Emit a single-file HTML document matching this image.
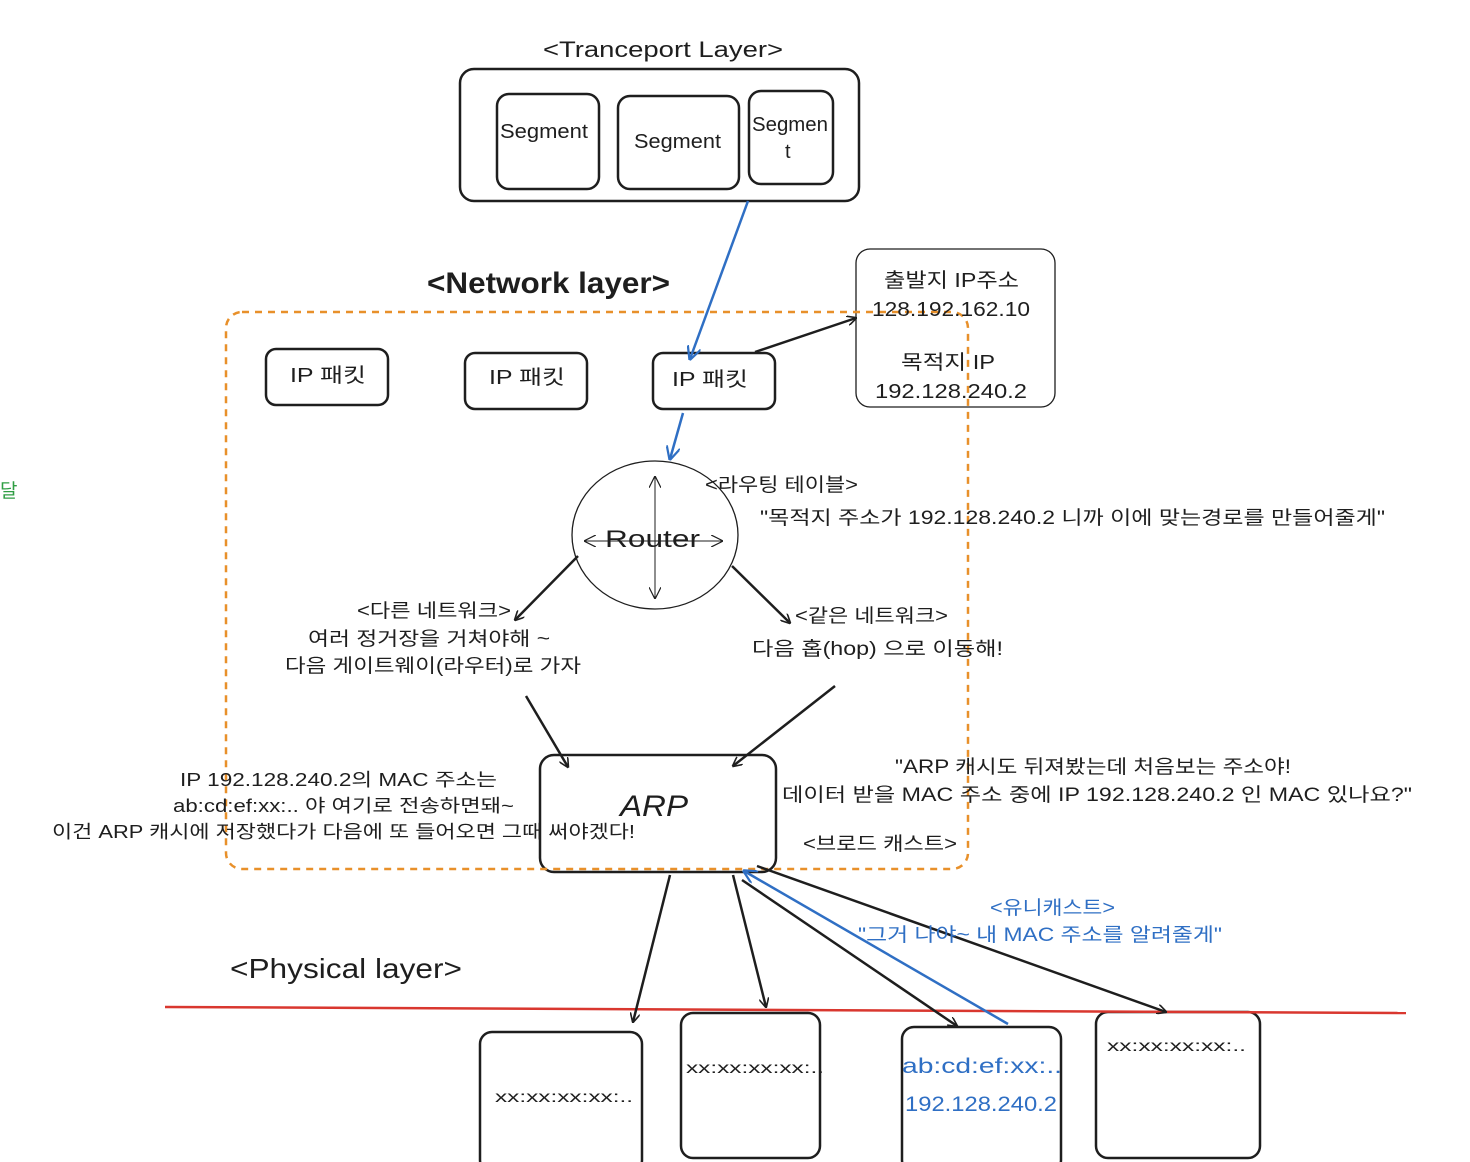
<!DOCTYPE html>
<html><head><meta charset="utf-8"><style>
body{margin:0;background:#fff;}
svg{display:block;}
text{font-family:"Liberation Sans","Noto Sans CJK KR",sans-serif;fill:#1e1e1e;}
</style></head><body>
<svg width="1470" height="1162" viewBox="0 0 1470 1162" xmlns="http://www.w3.org/2000/svg">
<defs>
<marker id="a" viewBox="0 0 10 10" refX="9" refY="5" markerWidth="10" markerHeight="10" orient="auto-start-reverse" markerUnits="userSpaceOnUse"><path d="M0,0 L10,5 L0,10" fill="none" stroke="#1e1e1e" stroke-width="1.6"/></marker>
<marker id="b" viewBox="0 0 10 10" refX="9" refY="5" markerWidth="14" markerHeight="14" orient="auto" markerUnits="userSpaceOnUse"><path d="M0,0 L10,5 L0,10" fill="none" stroke="#2f6fc4" stroke-width="1.6"/></marker>
<marker id="t" viewBox="0 0 10 10" refX="9" refY="5" markerWidth="12" markerHeight="12" orient="auto-start-reverse" markerUnits="userSpaceOnUse"><path d="M0,0 L10,5 L0,10" fill="none" stroke="#1e1e1e" stroke-width="1"/></marker>
</defs>
<g fill="none" stroke="#1e1e1e" stroke-width="2.5">
<rect x="460" y="69" width="399" height="132" rx="14"/>
<rect x="497" y="94" width="102" height="95" rx="12"/>
<rect x="618" y="96" width="121" height="93" rx="12"/>
<rect x="749" y="91" width="84" height="93" rx="12"/>
<rect x="266" y="349" width="122" height="56" rx="10"/>
<rect x="465" y="353" width="122" height="56" rx="10"/>
<rect x="653" y="353" width="122" height="56" rx="10"/>
<rect x="540" y="755" width="236" height="117" rx="14"/>
<rect x="480" y="1032" width="162" height="140" rx="12"/>
<rect x="681" y="1013" width="139" height="145" rx="12"/>
<rect x="902" y="1027" width="159" height="145" rx="12"/>
<rect x="1096" y="1012" width="164" height="146" rx="12"/>
</g>
<rect x="856" y="249" width="199" height="158" rx="14" fill="none" stroke="#1e1e1e" stroke-width="1.3"/>
<rect x="226" y="312" width="742" height="557" rx="16" fill="none" stroke="#e8902a" stroke-width="2.5" stroke-dasharray="7 6"/>
<ellipse cx="655" cy="535" rx="83" ry="74" fill="none" stroke="#1e1e1e" stroke-width="1.3"/>
<line x1="655" y1="477" x2="655" y2="598" stroke="#1e1e1e" stroke-width="1" marker-start="url(#t)" marker-end="url(#t)"/>
<line x1="585" y1="541" x2="722" y2="541" stroke="#1e1e1e" stroke-width="1" marker-start="url(#t)" marker-end="url(#t)"/>
<line x1="165" y1="1007" x2="1406" y2="1013" stroke="#d9372f" stroke-width="2.5"/>
<g stroke="#1e1e1e" stroke-width="2.5" fill="none" marker-end="url(#a)">
<line x1="755" y1="352" x2="856" y2="318"/>
<line x1="578" y1="556" x2="515" y2="620"/>
<line x1="732" y1="566" x2="790" y2="623"/>
<line x1="526" y1="696" x2="568" y2="767"/>
<line x1="835" y1="686" x2="733" y2="766"/>
<line x1="670" y1="875" x2="633" y2="1022"/>
<line x1="733" y1="875" x2="766" y2="1007"/>
<line x1="742" y1="880" x2="957" y2="1026"/>
<line x1="757" y1="866" x2="1166" y2="1012"/>
</g>
<g stroke="#2f6fc4" stroke-width="2.5" fill="none" marker-end="url(#b)">
<line x1="748" y1="201" x2="690" y2="359"/>
<line x1="683" y1="413" x2="670" y2="459"/>
<line x1="1008" y1="1024" x2="744" y2="871"/>
</g>
<g font-size="20" lengthAdjust="spacingAndGlyphs">
<text x="543" y="57" font-size="22" textLength="240" lengthAdjust="spacingAndGlyphs">&lt;Tranceport Layer&gt;</text>
<text x="500" y="138" textLength="88" lengthAdjust="spacingAndGlyphs">Segment</text>
<text x="634" y="148" textLength="87" lengthAdjust="spacingAndGlyphs">Segment</text>
<text x="752" y="131" textLength="76" lengthAdjust="spacingAndGlyphs">Segmen</text>
<text x="785" y="158">t</text>
<text x="427" y="293" font-size="30" font-weight="bold" textLength="243" lengthAdjust="spacingAndGlyphs">&lt;Network layer&gt;</text>
<text x="290" y="382" textLength="76" lengthAdjust="spacingAndGlyphs">IP 패킷</text>
<text x="489" y="384" textLength="76" lengthAdjust="spacingAndGlyphs">IP 패킷</text>
<text x="672" y="386" textLength="76" lengthAdjust="spacingAndGlyphs">IP 패킷</text>
<text x="884" y="287" textLength="135" lengthAdjust="spacingAndGlyphs">출발지 IP주소</text>
<text x="872" y="316" textLength="158" lengthAdjust="spacingAndGlyphs">128.192.162.10</text>
<text x="901" y="369" textLength="94" lengthAdjust="spacingAndGlyphs">목적지 IP</text>
<text x="875" y="398" textLength="152" lengthAdjust="spacingAndGlyphs">192.128.240.2</text>
<text x="605" y="547" font-size="24" textLength="95" lengthAdjust="spacingAndGlyphs">Router</text>
<text x="705" y="491" font-size="19" textLength="153" lengthAdjust="spacingAndGlyphs">&lt;라우팅 테이블&gt;</text>
<text x="760" y="524" font-size="19" textLength="625" lengthAdjust="spacingAndGlyphs">"목적지 주소가 192.128.240.2 니까 이에 맞는경로를 만들어줄게"</text>
<text x="357" y="617" font-size="19" textLength="154" lengthAdjust="spacingAndGlyphs">&lt;다른 네트워크&gt;</text>
<text x="308" y="645" font-size="19" textLength="242" lengthAdjust="spacingAndGlyphs">여러 정거장을 거쳐야해 ~</text>
<text x="285" y="672" font-size="19" textLength="296" lengthAdjust="spacingAndGlyphs">다음 게이트웨이(라우터)로 가자</text>
<text x="795" y="622" font-size="19" textLength="153" lengthAdjust="spacingAndGlyphs">&lt;같은 네트워크&gt;</text>
<text x="752" y="655" font-size="19" textLength="251" lengthAdjust="spacingAndGlyphs">다음 홉(hop) 으로 이동해!</text>
<text x="620" y="816" font-size="30" font-style="italic" textLength="68" lengthAdjust="spacingAndGlyphs">ARP</text>
<text x="180" y="786" font-size="18" textLength="317" lengthAdjust="spacingAndGlyphs">IP 192.128.240.2의 MAC 주소는</text>
<text x="173" y="812" font-size="18" textLength="341" lengthAdjust="spacingAndGlyphs">ab:cd:ef:xx:.. 야 여기로 전송하면돼~</text>
<text x="52" y="838" font-size="18" textLength="583" lengthAdjust="spacingAndGlyphs">이건 ARP 캐시에 저장했다가 다음에 또 들어오면 그때 써야겠다!</text>
<text x="895" y="773" font-size="19" textLength="396" lengthAdjust="spacingAndGlyphs">"ARP 캐시도 뒤져봤는데 처음보는 주소야!</text>
<text x="782" y="801" font-size="19" textLength="630" lengthAdjust="spacingAndGlyphs">데이터 받을 MAC 주소 중에 IP 192.128.240.2 인 MAC 있나요?"</text>
<text x="803" y="850" font-size="19" textLength="154" lengthAdjust="spacingAndGlyphs">&lt;브로드 캐스트&gt;</text>
<text x="990" y="914" font-size="19" style="fill:#2f6fc4" textLength="125" lengthAdjust="spacingAndGlyphs">&lt;유니캐스트&gt;</text>
<text x="858" y="941" font-size="19" style="fill:#2f6fc4" textLength="364" lengthAdjust="spacingAndGlyphs">"그거 나야~ 내 MAC 주소를 알려줄게"</text>
<text x="230" y="978" font-size="28" textLength="232" lengthAdjust="spacingAndGlyphs">&lt;Physical layer&gt;</text>
<text x="495" y="1102" font-size="16" textLength="138" lengthAdjust="spacingAndGlyphs">xx:xx:xx:xx:..</text>
<text x="686" y="1073" font-size="16" textLength="138" lengthAdjust="spacingAndGlyphs">xx:xx:xx:xx:..</text>
<text x="902" y="1073" font-size="21" style="fill:#2f6fc4" textLength="160" lengthAdjust="spacingAndGlyphs">ab:cd:ef:xx:..</text>
<text x="905" y="1111" font-size="21" style="fill:#2f6fc4" textLength="152" lengthAdjust="spacingAndGlyphs">192.128.240.2</text>
<text x="1107" y="1051" font-size="16" textLength="139" lengthAdjust="spacingAndGlyphs">xx:xx:xx:xx:..</text>
</g>
<text x="0" y="497" font-size="19" style="fill:#2f9e44">달</text>
</svg>
</body></html>
